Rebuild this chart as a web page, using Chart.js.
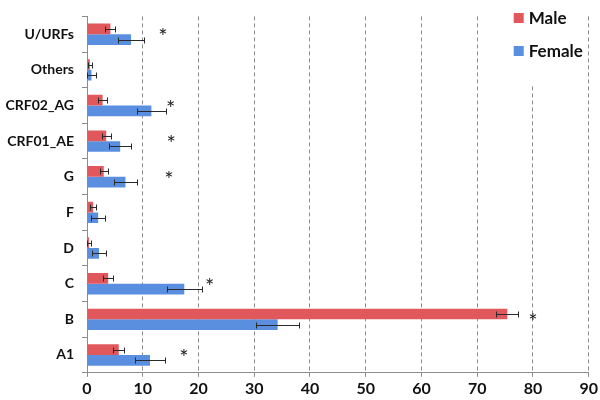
<!DOCTYPE html>
<html lang="en">
<head>
  <meta charset="UTF-8">
  <title>Subtypes by sex</title>
  <script src="https://cdn.jsdelivr.net/npm/chart.js"></script>
  <style>
    html, body { margin: 0; padding: 0; background: #ffffff; }
    #wrap { width: 600px; height: 400px; }
  </style>
</head>
<body>
  <div id="wrap"><canvas id="chart"></canvas></div>
  <script>
    const categories = ['U/URFs', 'Others', 'CRF02_AG', 'CRF01_AE', 'G', 'F', 'D', 'C', 'B', 'A1'];
    const maleValues = [4.2, 0.5, 2.8, 3.45, 3.0, 1.1, 0.35, 3.8, 75.4, 5.7];
    const maleErr = [0.9, 0.4, 0.8, 0.8, 0.75, 0.55, 0.35, 0.85, 1.95, 1.0];
    const femaleValues = [7.9, 0.8, 11.55, 5.95, 6.9, 2.0, 2.15, 17.45, 34.2, 11.3];
    const femaleErr = [2.3, 0.9, 2.65, 2.0, 2.1, 1.2, 1.25, 3.1, 3.9, 2.65];
    // asterisks: x position in axis units, next to significant pairs
    const starCats = ['U/URFs', 'CRF02_AG', 'CRF01_AE', 'G', 'C', 'B', 'A1'];
    const starX = [13.6, 15.0, 15.1, 14.7, 22.0, 80.0, 17.4];
    const xTicksMax = 90;

    const FONT = 'Lato, "Liberation Sans", sans-serif';

    const errorBars = {
      id: 'errorBars',
      afterDatasetsDraw(chart) {
        const ctx = chart.ctx;
        const xs = chart.scales.x;
        const errs = [maleErr, femaleErr];
        ctx.save();
        ctx.strokeStyle = '#2a2a2a';
        ctx.lineWidth = 1;
        chart.data.datasets.forEach((ds, di) => {
          chart.getDatasetMeta(di).data.forEach((bar, i) => {
            const v = ds.data[i], e = errs[di][i];
            const x1 = Math.round(xs.getPixelForValue(Math.max(0, v - e))) + 0.5;
            const x2 = Math.round(xs.getPixelForValue(v + e)) + 0.5;
            const y = Math.round(bar.y) + 0.5;
            ctx.beginPath();
            ctx.moveTo(x1, y); ctx.lineTo(x2, y);
            ctx.moveTo(x1, y - 3); ctx.lineTo(x1, y + 3);
            ctx.moveTo(x2, y - 3); ctx.lineTo(x2, y + 3);
            ctx.stroke();
          });
        });
        // asterisks
        const ys = chart.scales.y;
        ctx.fillStyle = '#222';
        ctx.font = '22px ' + FONT;
        ctx.textAlign = 'center';
        ctx.textBaseline = 'middle';
        starCats.forEach((c, i) => {
          const y = ys.getPixelForValue(categories.indexOf(c));
          ctx.fillText('*', xs.getPixelForValue(starX[i]), y + 3);
        });
        // legend box in the top right
        const a = chart.chartArea;
        ctx.fillStyle = '#ffffff';
        ctx.fillRect(a.right - 84, a.top + 2, 82, 66);
        ctx.font = 'bold 17px ' + FONT;
        ctx.textAlign = 'left';
        const items = [['Male', '#e0585b', 18], ['Female', '#5a8fdf', 51]];
        items.forEach(([t, col, yy]) => {
          ctx.fillStyle = col;
          ctx.fillRect(a.right - 75, yy - 5, 10, 10);
          ctx.fillStyle = '#111';
          ctx.fillText(t, a.right - 60, yy + 1);
        });
        ctx.restore();
      }
    };

    new Chart(document.getElementById('chart'), {
      type: 'bar',
      data: {
        labels: categories,
        datasets: [
          { label: 'Male', data: maleValues, backgroundColor: '#e0585b', categoryPercentage: 0.6, barPercentage: 1.0 },
          { label: 'Female', data: femaleValues, backgroundColor: '#5a8fdf', categoryPercentage: 0.6, barPercentage: 1.0 }
        ]
      },
      options: {
        indexAxis: 'y',
        responsive: true,
        maintainAspectRatio: false,
        animation: false,
        layout: { padding: { top: 0, right: 0, bottom: 0, left: 0 } },
        plugins: { legend: { display: false }, tooltip: { enabled: false } },
        scales: {
          x: {
            min: 0, max: xTicksMax,
            ticks: { stepSize: 10, color: '#111', font: { family: FONT, size: 16, weight: 'bold' }, padding: 2 },
            grid: { color: '#8c8c8c', tickLength: 4, tickColor: '#8c8c8c' },
            border: { display: true, color: '#8c8c8c', dash: [4, 3] }
          },
          y: {
            ticks: { color: '#111', font: { family: FONT, size: 14, weight: 'bold' }, padding: 8 },
            grid: { drawOnChartArea: false, color: '#8c8c8c', tickLength: 5 },
            border: { display: true, color: '#8c8c8c' },
            afterFit(s) { s.width = 87; }
          }
        }
      },
      plugins: [errorBars]
    });
  </script>
</body>
</html>
